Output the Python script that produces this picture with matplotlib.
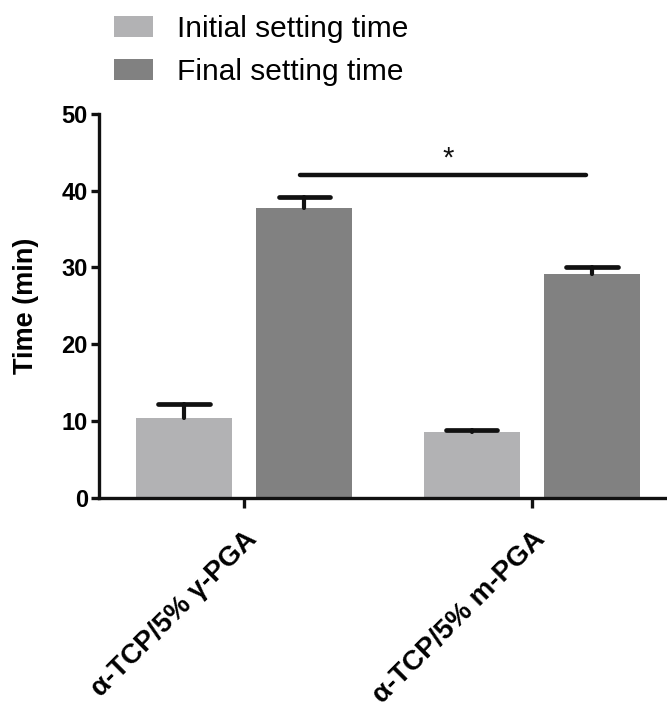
import numpy as np
import matplotlib
matplotlib.use('Agg')
import matplotlib.pyplot as plt

plt.rcParams['font.family'] = ['Liberation Sans', 'DejaVu Sans']

# values
groups = ['α-TCP/5% γ-PGA', 'α-TCP/5% m-PGA']
initial_time = np.array([10.4, 8.5])
initial_err = np.array([1.8, 0.35])
final_time = np.array([37.8, 29.2])
final_err = np.array([1.4, 0.9])
sig_y = 42.0

fig = plt.figure(figsize=(6.67, 7.09), dpi=100)
ax = fig.add_axes([0.1484, 0.2983, 0.8516, 0.5409])

x = np.arange(len(groups))
width = 0.334
off = 0.209
cap = 0.09
ink = '#111111'

ax.bar(x - off, initial_time, width, color='#b2b2b4', label='Initial setting time', zorder=2)
ax.bar(x + off, final_time, width, color='#818181', label='Final setting time', zorder=2)

# upper-only error bars (GraphPad style)
for xs, vals, errs in [(x - off, initial_time, initial_err), (x + off, final_time, final_err)]:
    ax.vlines(xs, vals, vals + errs, color=ink, lw=3.0, zorder=3)
    ax.hlines(vals + errs, xs - cap, xs + cap, color=ink, lw=3.4, zorder=3)
    for line in ax.collections[-2:]:
        line.set_capstyle('round')

# significance bar
ax.plot([0.194, 1.189], [sig_y, sig_y], color=ink, lw=3.2,
        solid_capstyle='round', zorder=3)
ax.text(0.709, sig_y + 0.4, '*', ha='center', va='bottom', fontsize=21, color=ink)

ax.set_xlim(-0.506, 1.471)
ax.set_ylim(0, 50)
ax.set_yticks([0, 10, 20, 30, 40, 50])
ax.set_xticks(x)
ax.set_xticklabels(groups, rotation=45, ha='right', va='top',
                   rotation_mode='anchor', fontsize=20, fontweight='bold')
for lbl in ax.get_yticklabels():
    lbl.set_fontsize(17)
    lbl.set_fontweight('bold')
ax.set_ylabel('Time (min)', fontsize=19.5, fontweight='bold')
ax.yaxis.set_label_coords(-0.128, 0.5)
ax.yaxis.label.set_va('center')

for side in ['top', 'right']:
    ax.spines[side].set_visible(False)
for side in ['left', 'bottom']:
    ax.spines[side].set_linewidth(2.4)
    ax.spines[side].set_color(ink)
ax.tick_params(axis='y', length=6, width=2.4, color=ink, pad=2)
ax.tick_params(axis='x', length=7, width=2.4, color=ink, pad=13.5)

fig.legend(loc='upper left', bbox_to_anchor=(0.148, 1.0), frameon=False,
           fontsize=21.5, handlelength=1.33, handleheight=0.7,
           handletextpad=0.8, labelspacing=0.5, borderpad=0.0)

fig.savefig('out.png', dpi=100, facecolor='white')
